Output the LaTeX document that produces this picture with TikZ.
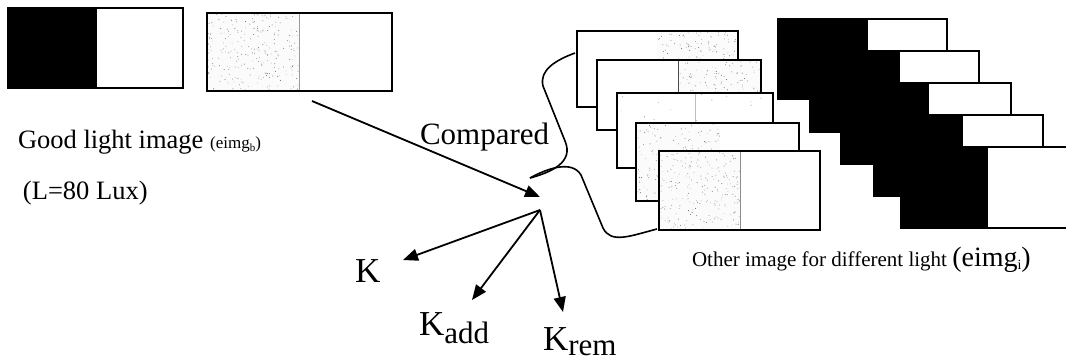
\documentclass[tikz,border=0pt]{standalone}
\usepackage{fontspec}
\setmainfont{Liberation Serif}
\usetikzlibrary{arrows.meta}

\newcommand\fs[1]{\fontsize{#1}{#1}\selectfont}
% sprinkle grey grain over a rectangle: x1 y1 x2 y2 count
\newcommand\grain[5]{%
  \foreach \n in {1,...,#5}{%
    \pgfmathsetmacro\gx{#1+rnd*(#3-#1)}%
    \pgfmathsetmacro\gy{#2+rnd*(#4-#2)}%
    \pgfmathsetmacro\gk{20+rnd*45}%
    \fill[black!\gk] (\gx,\gy) circle (0.5);
  }}

\tikzset{
  thickframe/.style={draw=black, line width=2pt},
  thinframe/.style={draw=black, line width=1.2pt},
  arr/.style={line width=1.8pt, -{Triangle[length=15pt,width=12pt]}},
  bracecurve/.style={line width=1.6pt},
  lbl/.style={anchor=base west, inner sep=0pt, outer sep=0pt},
}

\begin{document}
\begin{tikzpicture}[x=1pt,y=-1pt]
\clip (0,0) rectangle (1066,362);
\fill[white] (0,0) rectangle (1066,362);
\pgfmathsetseed{11}

% ---- reference image and its captured version
\fill[black] (8,8) rectangle (97,88);
\draw[thickframe] (8,8) rectangle (183,88);

\fill[black!1.5] (207,13) rectangle (299,91);
\grain{207}{13}{299}{91}{260}
\draw[black!40, line width=1pt] (299,13) -- (299,91);
\draw[thickframe] (207,13) rectangle (392,91);

% ---- captured images under other lighting
\fill[white] (577,31) rectangle (738,107);
\fill[black!1.5] (657,31) rectangle (738,107);
\grain{657}{31}{738}{107}{220}
\draw[thinframe] (577,31) rectangle (738,107);

\fill[white] (597,60) rectangle (761,130);
\fill[black!1.5] (678,60) rectangle (761,130);
\grain{678}{60}{761}{130}{170}
\draw[black!70, line width=0.8pt] (678,60) -- (678,130);
\draw[thickframe] (597,60) rectangle (761,130);

\fill[white] (617,93) rectangle (773,168);
\grain{617}{93}{773}{168}{35}
\draw[black!25, line width=0.8pt] (695,93) -- (695,168);
\draw[thinframe] (617,93) rectangle (773,168);

\fill[white] (636,123) rectangle (799,201);
\fill[black!1.5] (636,123) rectangle (720,201);
\grain{636}{123}{720}{201}{200}
\draw[thickframe] (636,123) rectangle (799,201);

\fill[white] (659,151) rectangle (820,230);
\fill[black!1.5] (659,151) rectangle (740,230);
\grain{659}{151}{740}{230}{220}
\draw[black!45, line width=1pt] (740,151) -- (740,230);
\draw[thickframe] (659,151) rectangle (820,230);

% ---- ideal black/white images, stacked
\foreach \l/\t/\m/\r/\b in {778/19/868/947/99, 810/51/900/979/132,
    841/83/929/1011/164, 874/115/963/1043/196, 901/147/988/1070/228}{
  \fill[white] (\l,\t) rectangle (\r,\b);
  \fill[black] (\l,\t) rectangle (\m,\b);
  \draw[thinframe, line width=1.5pt] (\l,\t) rectangle (\r,\b);
}

% ---- connector points
\coordinate (src)   at (312,101);
\coordinate (meet)  at (540,197);
\coordinate (hub)   at (540,210);
\coordinate (tipK)  at (403,260);
\coordinate (tipKa) at (472,300);
\coordinate (tipKr) at (563,312);
\coordinate (brTop) at (575,53);
\coordinate (brTip) at (530,178);
\coordinate (brBot) at (657,229);

% ---- brace grouping the captured images
\draw[bracecurve] (brTop) .. controls (556,60) and (539,70) .. (543,86)
  -- (565,141) .. controls (574,162) and (552,172) .. (brTip);
\draw[bracecurve] (brTip) .. controls (548,168) and (572,160) .. (581,175)
  -- (603,228) .. controls (611,244) and (630,236) .. (brBot);

% ---- arrows
\draw[arr] (src) -- (meet);
\draw[arr] (hub) -- (tipK);
\draw[arr] (hub) -- (tipKa);
\draw[arr] (hub) -- (tipKr);

% ---- labels
\node[lbl] (good) at (18,148) {\fs{26.5}Good light image \fs{17}(eimg\raisebox{-3pt}{\fs{11}b})};
\node[lbl] (lux) at (23,199) {\fs{26.5}(L=80 Lux)};
\node[lbl] (cmp) at (420,144) {\fs{31}Compared};
\node[lbl] (other) at (692,266) {\fs{21}Other image for different light \fs{28}(eimg\raisebox{-3pt}{\fs{14}i})};
\node[lbl] (k)  at (355,282) {\fs{35}K};
\node[lbl] (ka) at (419,335) {\fs{35}K\raisebox{-8pt}{\fs{31}add}};
\node[lbl] (kr) at (543,350) {\fs{35}K\raisebox{-5pt}{\fs{31}rem}};
\end{tikzpicture}
\end{document}
